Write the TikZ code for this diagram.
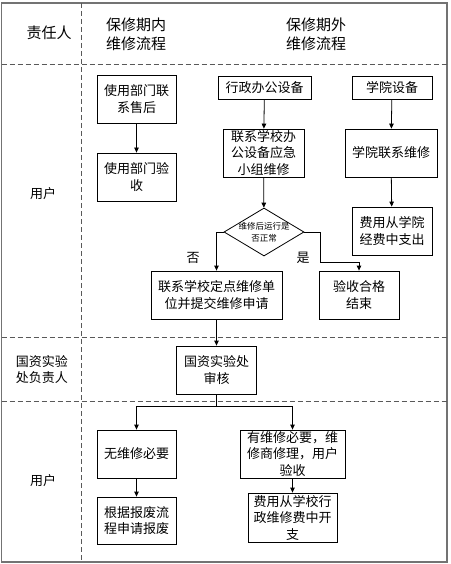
\documentclass[tikz,border=0pt]{standalone}
\usepackage{fontspec}
\setmainfont{Noto Sans CJK SC}
\usetikzlibrary{arrows.meta,shapes.geometric}
\begin{document}
\begin{tikzpicture}[x=1pt, y=-1pt,
    box/.style={draw, line width=0.8pt, align=center, inner sep=0pt, font=\fontsize{13}{16.5}\selectfont},
    arr/.style={-{Triangle[length=5pt,width=4.5pt]}, line width=0.8pt},
    lane/.style={draw=black!65, dash pattern=on 5pt off 3pt, line width=0.9pt},
    lbl/.style={align=center, font=\fontsize{13}{16}\selectfont},
    head/.style={align=center, font=\fontsize{15}{19}\selectfont}]
  \useasboundingbox (0,0) rectangle (450,564);
  % frame and lanes
  \draw[black!55, line width=1.5pt] (1.5,3) rectangle (447,562);
  \draw[lane] (81,3) -- (81,562);
  \draw[lane] (1.5,64) -- (447,64);
  \draw[lane] (1.5,337) -- (447,337);
  \draw[lane] (1.5,401) -- (447,401);
  % headers
  \node[head] (hresp) at (49,33) {责任人};
  \node[head] (hin) at (136,34) {保修期内\\维修流程};
  \node[head] (hout) at (316,34) {保修期外\\维修流程};
  \node[lbl] (lu1) at (43,194) {用户};
  \node[lbl] (lgz) at (42,370) {国资实验\\处负责人};
  \node[lbl] (lu2) at (43,481) {用户};
  % boxes
  \node[box, minimum width=79pt, minimum height=48pt] (a) at (136.5,99) {使用部门联\\系售后};
  \node[box, minimum width=79pt, minimum height=48pt] (b) at (136.5,177) {使用部门验\\收};
  \node[box, minimum width=93pt, minimum height=23pt] (c) at (264.5,87.5) {行政办公设备};
  \node[box, minimum width=81pt, minimum height=48pt] (d) at (263.5,153) {联系学校办\\公设备应急\\小组维修};
  \node[box, minimum width=80pt, minimum height=23pt] (e) at (392,87.5) {学院设备};
  \node[box, minimum width=92pt, minimum height=48pt] (f) at (391,153) {学院联系维修};
  \node[box, minimum width=80pt, minimum height=48pt] (g) at (392,231) {费用从学院\\经费中支出};
  \node[draw, diamond, line width=0.8pt, minimum width=80pt, minimum height=48pt, inner sep=0pt] (chk) at (264,232) {};
  \node[align=center, inner sep=0pt, font=\fontsize{8.5}{12}\selectfont] (chktxt) at (chk) {维修后运行是\\否正常};
  \node[box, minimum width=131pt, minimum height=48pt] (h) at (216.5,295) {联系学校定点维修单\\位并提交维修申请};
  \node[box, minimum width=80pt, minimum height=48pt] (i) at (359,295) {验收合格\\结束};
  \node[box, minimum width=80pt, minimum height=48pt] (j) at (216.5,370) {国资实验处\\审核};
  \node[box, minimum width=79pt, minimum height=48pt] (k) at (136.5,454) {无维修必要};
  \node[box, minimum width=105pt, minimum height=48pt] (l) at (292.5,454) {有维修必要，维\\修商修理，用户\\验收};
  \node[box, minimum width=79pt, minimum height=47pt] (m) at (136.5,520.5) {根据报废流\\程申请报废};
  \node[box, minimum width=89pt, minimum height=49pt] (n) at (292.5,517.5) {费用从学校行\\政维修费中开\\支};
  \node[lbl] (no) at (193,258) {否};
  \node[lbl] (yes) at (303,258) {是};
  % connectors
  \coordinate (yb) at (320,262);
  \coordinate (split) at (216.5,406);
  \draw[arr] (a) -- (b);
  \draw[arr] (c) -- (d);
  \draw[arr] (e) -- (f);
  \draw[arr] (d) -- (chk);
  \draw[arr] (f) -- (g);
  \draw[arr] (chk.west) -| (h.north);
  \draw[line width=0.8pt] (chk.east) -| (yb);
  \draw[arr] (yb) -| (i.north);
  \draw[arr] (h) -- (j);
  \draw[line width=0.8pt] (j) -- (split);
  \draw[arr] (split) -| (k.north);
  \draw[arr] (split) -| (l.north);
  \draw[arr] (k) -- (m);
  \draw[arr] (l) -- (n);
\end{tikzpicture}
\end{document}
